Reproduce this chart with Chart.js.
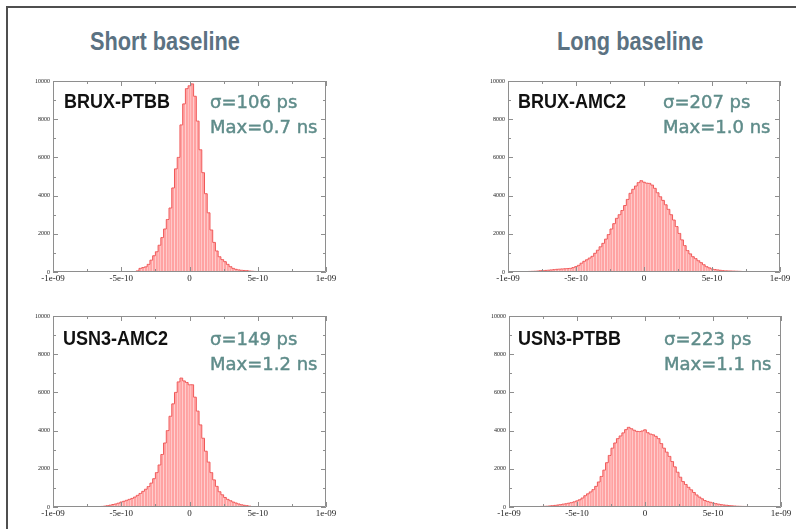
<!DOCTYPE html>
<html>
<head>
<meta charset="utf-8">
<script src="https://cdn.jsdelivr.net/npm/chart.js@4.4.1/dist/chart.umd.min.js"></script>
<style>
  html, body { margin: 0; padding: 0; background: #fff; width: 796px; height: 529px; overflow: hidden; }
  #frame { position: absolute; left: 6px; top: 6px; width: 820px; height: 560px;
           border-top: 2px solid #4f4f4f; border-left: 2px solid #4f4f4f; }
  canvas { position: absolute; }
  .title { position: absolute; font-family: 'Liberation Sans', Arial, sans-serif; font-weight: bold;
           font-size: 25px; line-height: 1; color: #5b7282; white-space: nowrap;
           transform: scaleX(0.87); transform-origin: 0 0; }
  .lab { position: absolute; font-family: 'Liberation Sans', Arial, sans-serif; font-weight: bold;
         font-size: 20px; line-height: 1; color: #111; white-space: nowrap;
         transform: scaleX(0.9); transform-origin: 0 0; }
  .stat { position: absolute; font-family: 'DejaVu Sans', sans-serif; font-size: 18px; line-height: 1;
          color: #5f8c8a; white-space: nowrap; -webkit-text-stroke: 0.45px #5f8c8a; }
</style>
</head>
<body>
<div id="frame"></div>
<script>
// ---------------- data (x in units of 1e-10 s, bin width 0.2e-10 s) ----------------
const binWidth = 0.2;
const groupTitles = ['Short baseline', 'Long baseline'];
const panelNames = ['BRUX-PTBB', 'BRUX-AMC2', 'USN3-AMC2', 'USN3-PTBB'];
const sigmaTexts = ['σ=106 ps', 'σ=207 ps', 'σ=149 ps', 'σ=223 ps'];
const maxTexts = ['Max=0.7 ns', 'Max=1.0 ns', 'Max=1.2 ns', 'Max=1.1 ns'];
const xTickLabels = { '-10': '-1e-09', '-5': '-5e-10', '0': '0', '5': '5e-10', '10': '1e-09' };
const yTickLabels = ['0', '2000', '4000', '6000', '8000', '10000'];

const bruxPtbbStart = -4.6;
const bruxPtbbCounts = [20, 10, 0, 10, 60, 190, 230, 270, 400, 620,
  850, 1060, 1400, 1800, 2250, 2750, 3350, 4400, 5400, 6000,
  7700, 8800, 9600, 9750, 9850, 9200, 7900, 6400, 5200, 4100,
  3100, 2200, 1550, 1100, 800, 650, 540, 400, 280, 190,
  140, 110, 90, 80, 70, 50, 40, 30, 20];

const bruxAmc2Start = -8.8;
const bruxAmc2Counts = [20, 25, 30, 35, 40, 50, 70, 75, 85, 95,
  110, 125, 140, 150, 160, 170, 180, 190, 230, 280,
  350, 460, 560, 640, 730, 820, 980, 1140, 1320, 1500,
  1720, 1960, 2250, 2530, 2810, 3000, 3220, 3480, 3800, 4120,
  4330, 4500, 4680, 4780, 4700, 4650, 4640, 4550, 4380, 4150,
  3940, 3750, 3520, 3280, 3000, 2720, 2380, 2020, 1680, 1380,
  1120, 950, 800, 700, 590, 490, 380, 280, 220, 160,
  130, 110, 90, 70, 60, 55, 50, 45, 40, 35, 30];

const usn3Amc2Start = -6.6;
const usn3Amc2Counts = [20, 30, 45, 70, 95, 130, 160, 200, 260, 300,
  350, 400, 450, 520, 610, 710, 820, 930, 1070, 1250,
  1480, 1800, 2200, 2750, 3350, 4000, 4750, 5400, 6000, 6550,
  6750, 6600, 6520, 6400, 6400, 5750, 5020, 4300, 3600, 2920,
  2350, 1800, 1420, 1080, 800, 640, 500, 400, 330, 260,
  210, 160, 120, 90, 70, 45, 25, 10];

const usn3PtbbStart = -8.6;
const usn3PtbbCounts = [15, 20, 20, 25, 25, 30, 35, 40, 55, 70,
  85, 105, 125, 150, 170, 200, 230, 270, 320, 380,
  470, 590, 690, 790, 910, 1080, 1310, 1600, 1930, 2320,
  2700, 3080, 3350, 3580, 3720, 3880, 4050, 4170, 4100, 4020,
  3960, 3950, 3980, 4040, 3890, 3820, 3780, 3700, 3580, 3320,
  3080, 2870, 2650, 2380, 2100, 1820, 1560, 1330, 1180, 1030,
  900, 760, 630, 520, 430, 340, 290, 250, 210, 175,
  150, 125, 105, 90, 75, 60, 50, 40, 35, 30,
  28, 25, 22, 20, 18, 16, 15, 12];

const panelStarts = [bruxPtbbStart, bruxAmc2Start, usn3Amc2Start, usn3PtbbStart];
const panelCounts = [bruxPtbbCounts, bruxAmc2Counts, usn3Amc2Counts, usn3PtbbCounts];

// ---------------- layout ----------------
const titlePos = [[90, 29], [557, 29]];
// plot-area left/top/width/height
const plotBoxes = [[53, 81, 273, 191], [508, 81, 272, 191], [53, 316, 273, 191], [509, 316, 272, 191]];
const labelPos = [[64, 91], [518, 91], [63, 328], [518, 328]];
const statPos = [[210, 93], [663, 93], [210, 330], [664, 330]];
const Y_AXIS_W = 36, PAD_R = 14, PAD_T = 10, X_AXIS_H = 22;

function addDiv(cls, text, x, y) {
  const d = document.createElement('div');
  d.className = cls; d.textContent = text;
  d.style.left = x + 'px'; d.style.top = y + 'px';
  document.body.appendChild(d);
}
groupTitles.forEach((t, i) => addDiv('title', t, titlePos[i][0], titlePos[i][1]));

const frameTicks = {
  id: 'frameTicks',
  afterDatasetsDraw(chart) {
    const { ctx, chartArea: a, scales: { x, y } } = chart;
    ctx.save();
    ctx.strokeStyle = '#8e8e8e';
    ctx.lineWidth = 1;
    ctx.beginPath();
    ctx.rect(Math.round(a.left) + 0.5, Math.round(a.top) + 0.5,
             Math.round(a.right - a.left) - 1, Math.round(a.bottom - a.top) - 1);
    ctx.stroke();
    ctx.beginPath();
    x.ticks.forEach((t) => {
      const px = Math.round(x.getPixelForValue(t.value)) + 0.5;
      const len = t.label ? 5 : 3;
      ctx.moveTo(px, a.bottom); ctx.lineTo(px, a.bottom - len);
      ctx.moveTo(px, a.top); ctx.lineTo(px, a.top + len);
    });
    y.ticks.forEach((t) => {
      const py = Math.round(y.getPixelForValue(t.value)) + 0.5;
      const len = t.label ? 5 : 3;
      ctx.moveTo(a.left, py); ctx.lineTo(a.left + len, py);
      ctx.moveTo(a.right, py); ctx.lineTo(a.right - len, py);
    });
    ctx.stroke();
    ctx.restore();
  }
};

panelCounts.forEach((counts, p) => {
  const [L, T, W, H] = plotBoxes[p];
  const cv = document.createElement('canvas');
  const cw = W + Y_AXIS_W + PAD_R, ch = H + PAD_T + X_AXIS_H;
  cv.width = cw; cv.height = ch;
  cv.style.left = (L - Y_AXIS_W) + 'px'; cv.style.top = (T - PAD_T) + 'px';
  cv.style.width = cw + 'px'; cv.style.height = ch + 'px';
  document.body.appendChild(cv);

  const pts = counts.map((c, i) => ({ x: Math.round((panelStarts[p] + i * binWidth) * 10) / 10, y: c }));

  new Chart(cv.getContext('2d'), {
    type: 'bar',
    data: {
      datasets: [
        { type: 'bar', data: pts, backgroundColor: '#ffa2a2', borderWidth: 0,
          barPercentage: 0.86, categoryPercentage: 1.0, grouped: false, order: 2 },
        { type: 'line', data: pts, borderColor: '#f05858', borderWidth: 1, stepped: 'middle',
          pointRadius: 0, fill: false, order: 1 }
      ]
    },
    options: {
      responsive: false,
      animation: false,
      devicePixelRatio: 1,
      layout: { padding: { top: PAD_T, right: PAD_R, left: 0, bottom: 0 } },
      plugins: { legend: { display: false }, tooltip: { enabled: false } },
      scales: {
        x: {
          type: 'linear', min: -10, max: 10, offset: false,
          grid: { display: false, drawTicks: false, offset: false },
          border: { display: false },
          ticks: {
            stepSize: 2.5, autoSkip: false, maxRotation: 0, padding: 1,
            color: '#222', font: { family: "'Liberation Serif', 'Times New Roman', serif", size: 9 },
            callback: (v) => xTickLabels[String(v)] || ''
          },
          afterFit: (s) => { s.height = X_AXIS_H; }
        },
        y: {
          type: 'linear', min: 0, max: 10000,
          grid: { display: false, drawTicks: false },
          border: { display: false },
          ticks: {
            stepSize: 1000, autoSkip: false, padding: 3,
            color: '#222', font: { family: "'Liberation Serif', 'Times New Roman', serif", size: 6 },
            callback: (v) => yTickLabels.includes(String(v)) ? String(v) : ''
          },
          afterFit: (s) => { s.width = Y_AXIS_W; }
        }
      }
    },
    plugins: [frameTicks]
  });

  addDiv('lab', panelNames[p], labelPos[p][0], labelPos[p][1]);
  addDiv('stat', sigmaTexts[p], statPos[p][0], statPos[p][1]);
  addDiv('stat', maxTexts[p], statPos[p][0], statPos[p][1] + 25);
});
</script>
</body>
</html>
